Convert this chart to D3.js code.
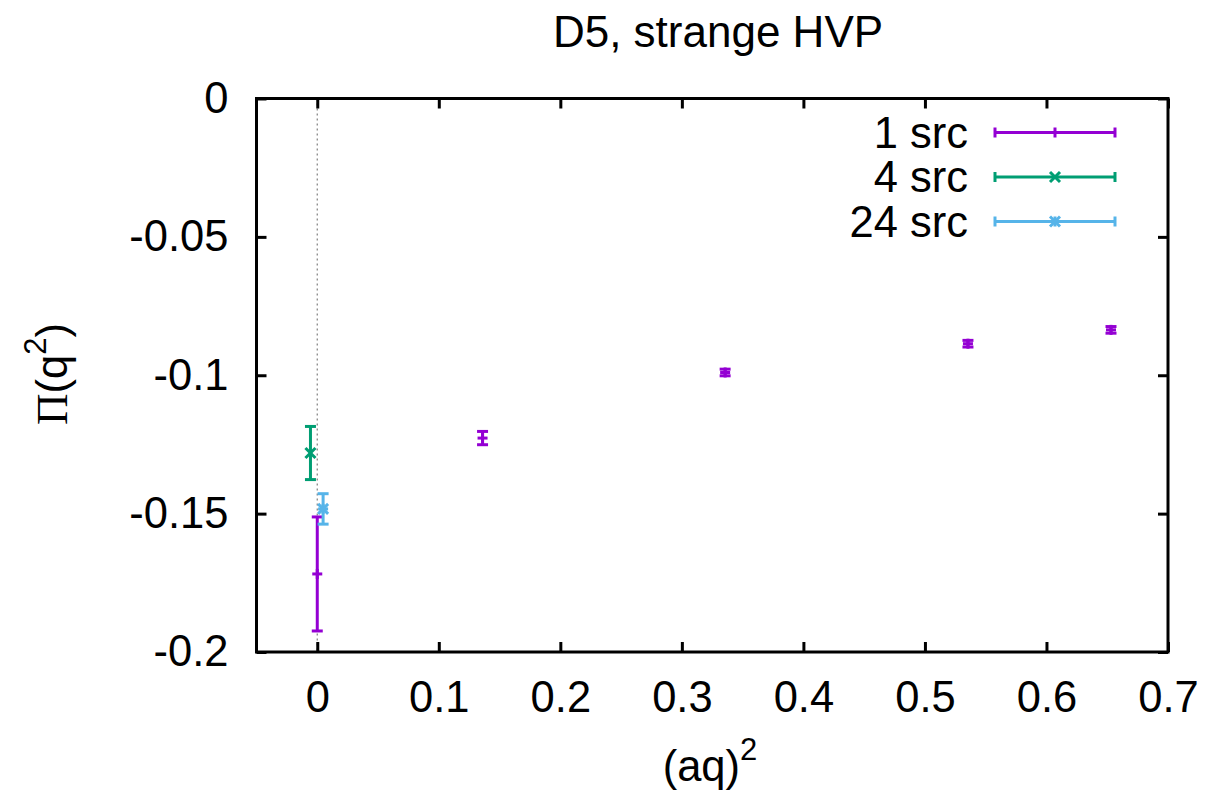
<!DOCTYPE html>
<html>
<head>
<meta charset="utf-8">
<script src="https://cdn.jsdelivr.net/npm/d3@7"></script>
<style>
  html, body { margin: 0; padding: 0; background: #fff; }
  svg { display: block; }
  text { font-family: "Liberation Sans", Arial, Helvetica, sans-serif; fill: #000; }
</style>
</head>
<body>
<svg id="chart" width="1211" height="791"></svg>
<script>
// ---- data ----
const seriesNames = ["1 src", "4 src", "24 src"];
const seriesColors = ["#9400d3", "#009e73", "#56b4e9"];
const seriesSymbols = ["plus", "cross", "star"];
// 1 src
const x1 = [0.0, 0.136, 0.3356, 0.5354, 0.6531];
const y1 = [-0.1718, -0.1227, -0.0990, -0.0886, -0.0836];
const e1 = [0.0206, 0.0024, 0.0012, 0.0012, 0.0012];
// 4 src
const x4 = [-0.0056];
const y4 = [-0.1281];
const e4 = [0.0096];
// 24 src
const x24 = [0.0048];
const y24 = [-0.1483];
const e24 = [0.0055];
const xTicks = [0, 0.1, 0.2, 0.3, 0.4, 0.5, 0.6, 0.7];
const yTicks = [0, -0.05, -0.1, -0.15, -0.2];
const titleText = "D5, strange HVP";

// ---- layout ----
const svg = d3.select("#chart");
const L = 256.5, R = 1168, T = 98.5, B = 652;
const x = d3.scaleLinear().domain([-0.05, 0.7]).range([L, R]);
const y = d3.scaleLinear().domain([-0.2, 0]).range([B, T]);
const FS = 43.5;

// zero line (dotted)
svg.append("line")
  .attr("x1", x(0)).attr("x2", x(0)).attr("y1", T).attr("y2", B)
  .attr("stroke", "#888").attr("stroke-width", 1.3).attr("stroke-dasharray", "2,3");

// axes
const gB = svg.append("g").attr("transform", `translate(0,${B})`)
  .call(d3.axisBottom(x).tickValues(xTicks).tickSize(-10).tickPadding(29).tickFormat(d => String(+d.toFixed(1))));
const gT = svg.append("g").attr("transform", `translate(0,${T})`)
  .call(d3.axisTop(x).tickValues(xTicks).tickSize(-10).tickFormat(""));
const gL = svg.append("g").attr("transform", `translate(${L},0)`)
  .call(d3.axisLeft(y).tickValues(yTicks).tickSize(-10).tickPadding(28).tickFormat(d => String(+d.toFixed(2))));
const gR = svg.append("g").attr("transform", `translate(${R},0)`)
  .call(d3.axisRight(y).tickValues(yTicks).tickSize(-10).tickFormat(""));
[gB, gT, gL, gR].forEach(g => {
  g.select(".domain").remove();
  g.selectAll(".tick line").attr("stroke", "#000").attr("stroke-width", 3);
  g.selectAll(".tick text").attr("font-size", FS).attr("font-family", "Liberation Sans, Arial, sans-serif").attr("fill", "#000");
});

// frame
svg.append("rect").attr("x", L).attr("y", T).attr("width", R - L).attr("height", B - T)
  .attr("fill", "none").attr("stroke", "#000").attr("stroke-width", 3);

// symbols
function drawSymbol(g, type, cx, cy, color, s) {
  const segs = [];
  if (type === "plus" || type === "star") {
    segs.push([cx - s, cy, cx + s, cy], [cx, cy - s, cx, cy + s]);
  }
  if (type === "cross" || type === "star") {
    segs.push([cx - s, cy - s, cx + s, cy + s], [cx - s, cy + s, cx + s, cy - s]);
  }
  segs.forEach(sg => g.append("line")
    .attr("x1", sg[0]).attr("y1", sg[1]).attr("x2", sg[2]).attr("y2", sg[3])
    .attr("stroke", color).attr("stroke-width", 3));
}

function drawSeries(xs, ys, es, idx) {
  const color = seriesColors[idx];
  const g = svg.append("g");
  const cap = 5.5;
  xs.forEach((xv, i) => {
    const px = x(xv), lo = y(ys[i] - es[i]), hi = y(ys[i] + es[i]);
    g.append("line").attr("x1", px).attr("x2", px).attr("y1", lo).attr("y2", hi)
      .attr("stroke", color).attr("stroke-width", 3);
    [lo, hi].forEach(v => g.append("line").attr("x1", px - cap).attr("x2", px + cap)
      .attr("y1", v).attr("y2", v).attr("stroke", color).attr("stroke-width", 3));
    drawSymbol(g, seriesSymbols[idx], px, y(ys[i]), color, 5);
  });
}
drawSeries(x1, y1, e1, 0);
drawSeries(x4, y4, e4, 1);
drawSeries(x24, y24, e24, 2);

// legend
const legRows = [132.5, 177, 221.5];
seriesNames.forEach((name, i) => {
  const cy = legRows[i], color = seriesColors[i];
  svg.append("text").attr("x", 968).attr("y", cy).attr("dy", "0.35em")
    .attr("text-anchor", "end").attr("font-size", FS).text(name);
  const g = svg.append("g");
  g.append("line").attr("x1", 995).attr("x2", 1115).attr("y1", cy).attr("y2", cy)
    .attr("stroke", color).attr("stroke-width", 3);
  [995, 1115].forEach(px => g.append("line").attr("x1", px).attr("x2", px)
    .attr("y1", cy - 5).attr("y2", cy + 5).attr("stroke", color).attr("stroke-width", 3));
  drawSymbol(g, seriesSymbols[i], 1055, cy, color, 5);
});

// title
svg.append("text").attr("x", 718).attr("y", 47).attr("text-anchor", "middle")
  .attr("font-size", 44).text(titleText);

// x label
const xl = svg.append("text").attr("x", 710).attr("y", 781).attr("text-anchor", "middle").attr("font-size", FS);
xl.append("tspan").text("(aq)");
xl.append("tspan").attr("font-size", 31).attr("dy", -21).text("2");

// y label
const yl = svg.append("text").attr("transform", "translate(67,374) rotate(-90)")
  .attr("text-anchor", "middle").attr("font-size", FS);
yl.append("tspan").attr("font-family", "Liberation Serif, Times New Roman, serif").text("\u03A0");
yl.append("tspan").text("(q");
yl.append("tspan").attr("font-size", 31).attr("dy", -21).text("2");
yl.append("tspan").attr("dy", 21).text(")");
</script>
</body>
</html>
